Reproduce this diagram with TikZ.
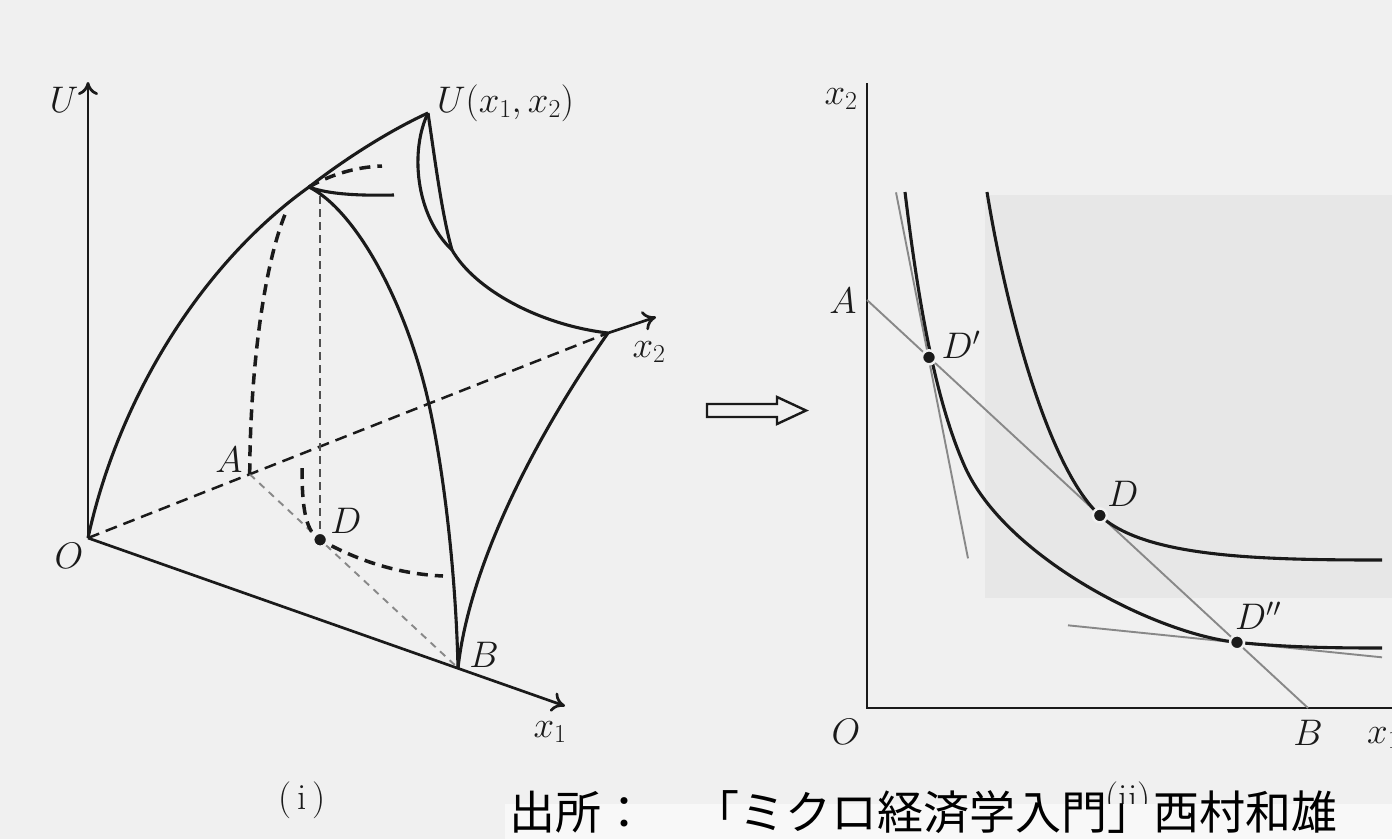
\RequirePackage{fix-cm}
\documentclass[tikz,border=0pt]{standalone}
\usepackage{fontspec}
\newfontfamily\cjk{Noto Sans CJK JP}
\usetikzlibrary{arrows.meta, calc}
\definecolor{cPaper}{HTML}{F0F0F0}
\definecolor{cShade}{HTML}{E7E7E7}
\definecolor{cCap}{HTML}{F8F8F8}
\definecolor{cInk}{HTML}{1A1A1A}
\definecolor{cThin}{HTML}{888888}
\definecolor{cGuide}{HTML}{505050}
\tikzset{
  >={Computer Modern Rightarrow[length=13pt,width=20pt]},
  axis/.style={draw=cInk, line width=2.7pt},
  edge/.style={draw=cInk, line width=3.1pt},
  hidden/.style={draw=cInk, line width=3.5pt, dash pattern=on 11pt off 7pt},
  ray/.style={draw=cInk, line width=2.5pt, dash pattern=on 12pt off 7pt},
  guide/.style={draw=cGuide, line width=1.9pt, dash pattern=on 8pt off 5pt},
  floor/.style={draw=cThin, line width=1.9pt, dash pattern=on 7pt off 6pt},
  budget/.style={draw=cThin, line width=1.9pt},
  icurve/.style={draw=cInk, line width=3.1pt},
  lbl/.style={font=\fontsize{37}{42}\selectfont, inner sep=0pt, text=cInk},
  dot/.style={circle, fill=cInk, draw=cPaper, line width=2.5pt, inner sep=0pt, minimum size=14pt},
}

\begin{document}
\begin{tikzpicture}[x=1pt, y=-1pt]
\useasboundingbox (0,0) rectangle (1392,839);
\fill[cPaper] (0,0) rectangle (1392,839);
\fill[cShade] (985,195) rectangle (1392,598);

% ===================== (i) utility surface =====================
\coordinate (O) at (88,538);
\coordinate (Utip) at (88,82);
\coordinate (B) at (458,668);
\coordinate (x1tip) at (565,706);
\coordinate (E2) at (608,333);
\coordinate (x2tip) at (656,317);
\coordinate (A) at ($(O)!0.311!(E2)$);
\coordinate (D) at ($(A)!0.338!(B)$);
\coordinate (P) at (309,187);
\coordinate (Up) at (428,113);
\coordinate (F) at (452,250);
\coordinate (M) at (428,400);

\draw[axis, ->] (O) -- (Utip);
\draw[axis, ->] (O) -- (x1tip);
\draw[ray] (O) -- (E2);
\draw[axis, ->] (E2) -- (x2tip);
\draw[floor] (A) -- (B);
\draw[guide] ($(D|-P)+(0,9)$) -- (D);

\draw[edge] (O) .. controls (118,400) and (200,265) .. (P)
            .. controls (350,155) and (395,128) .. (Up);
\draw[edge] (Up) .. controls (410,150) and (415,215) .. (F);
\draw[edge] (Up) .. controls (435,160) and (442,215) .. (F);
\draw[edge] (F) .. controls (475,290) and (540,325) .. (E2);
\draw[edge] (P) .. controls (355,210) and (405,300) .. (M)
            .. controls (445,475) and (456,580) .. (B);
\draw[edge] (B) .. controls (470,560) and (540,430) .. (E2);
\draw[edge] (P) .. controls (325,193) and (350,196) .. (394,195);

% dashed sections
\draw[hidden] (P) .. controls (330,175) and (355,167) .. (382,166);
\draw[hidden] (A) .. controls (250,380) and (262,270) .. (286,212);
\draw[hidden] (302,468) .. controls (302,510) and (306,532) .. (D)
              .. controls (360,562) and (400,574) .. (443,576);
\node[dot] (dD) at (D) {};

\node[lbl] (lU) at (64,100) {$U$};
\node[lbl, anchor=west] (lUx) at (437,103) {$U(x_1, x_2)$};
\node[lbl] (lx2) at (649,352) {$x_2$};
\node[lbl] (lA) at (229,460) {$A$};
\node[lbl] (lD) at (346,521) {$D$};
\node[lbl] (lO) at (69,556) {$O$};
\node[lbl] (lB) at (484,655) {$B$};
\node[lbl] (lx1) at (550,732) {$x_1$};
\node[lbl] (li) at (302,800) {(\,i\,)};

% ===================== implication arrow =====================
\draw[cInk, line width=2.4pt, line join=miter, fill=cPaper]
  (707,404) -- (777,404) -- (777,397) -- (806,410.5) -- (777,424) -- (777,417) -- (707,417) -- cycle;

% ===================== (ii) indifference map =====================
\coordinate (O2) at (867,708);
\coordinate (Y2) at (867,83);
\coordinate (X1) at (1392,708);
\coordinate (A2) at (867,300);
\coordinate (B2) at (1308,708);
\coordinate (Dp) at ($(A2)!0.1406!(B2)$);
\coordinate (Dm) at ($(A2)!0.528!(B2)$);
\coordinate (Dpp) at ($(A2)!0.839!(B2)$);

\draw[axis] (Y2) -- (O2) -- (X1);
\draw[budget] (A2) -- (B2);
\draw[budget] ($(Dp)+(-33,-165)$) -- ($(Dp)+(39,201)$);
\draw[budget] ($(Dpp)+(-169,-17)$) -- ($(Dpp)+(145,15)$);

\draw[icurve] (987,192) .. controls (1008,320) and ($(Dm)-(50,46)$) .. (Dm)
              .. controls ($(Dm)+(45,42)$) and (1260,560) .. (1382,560);
\draw[icurve] (905,192) .. controls (918,300) and (935,400) .. (965,467)
              .. controls (1006,558) and ($(Dpp)-(80,8)$) .. (Dpp)
              .. controls ($(Dpp)+(50,5)$) and (1330,648) .. (1382,648);

\node[dot] (dDp) at (Dp) {};
\node[dot] (dDm) at (Dm) {};
\node[dot] (dDpp) at (Dpp) {};

\node[lbl] (lx2b) at (841,99) {$x_2$};
\node[lbl] (lA2) at (843,301) {$A$};
\node[lbl] (lDp) at (961,345) {$D'$};
\node[lbl] (lDm) at (1123,494) {$D$};
\node[lbl] (lDpp) at (1258,616) {$D''$};
\node[lbl] (lO2) at (846,732) {$O$};
\node[lbl] (lB2) at (1308,733) {$B$};
\node[lbl, anchor=west] (lx1b) at (1367,738) {$x_1$};
\node[lbl] (lii) at (1128,800) {(ii)};

% ===================== source caption =====================
\fill[cCap] (505,804) rectangle (1392,839);
\node[anchor=base west, inner sep=0pt, font=\cjk\fontsize{46}{50}\selectfont, text=black]
  (src) at (509,829) {出所：　「ミクロ経済学入門」西村和雄};

\end{tikzpicture}
\end{document}
